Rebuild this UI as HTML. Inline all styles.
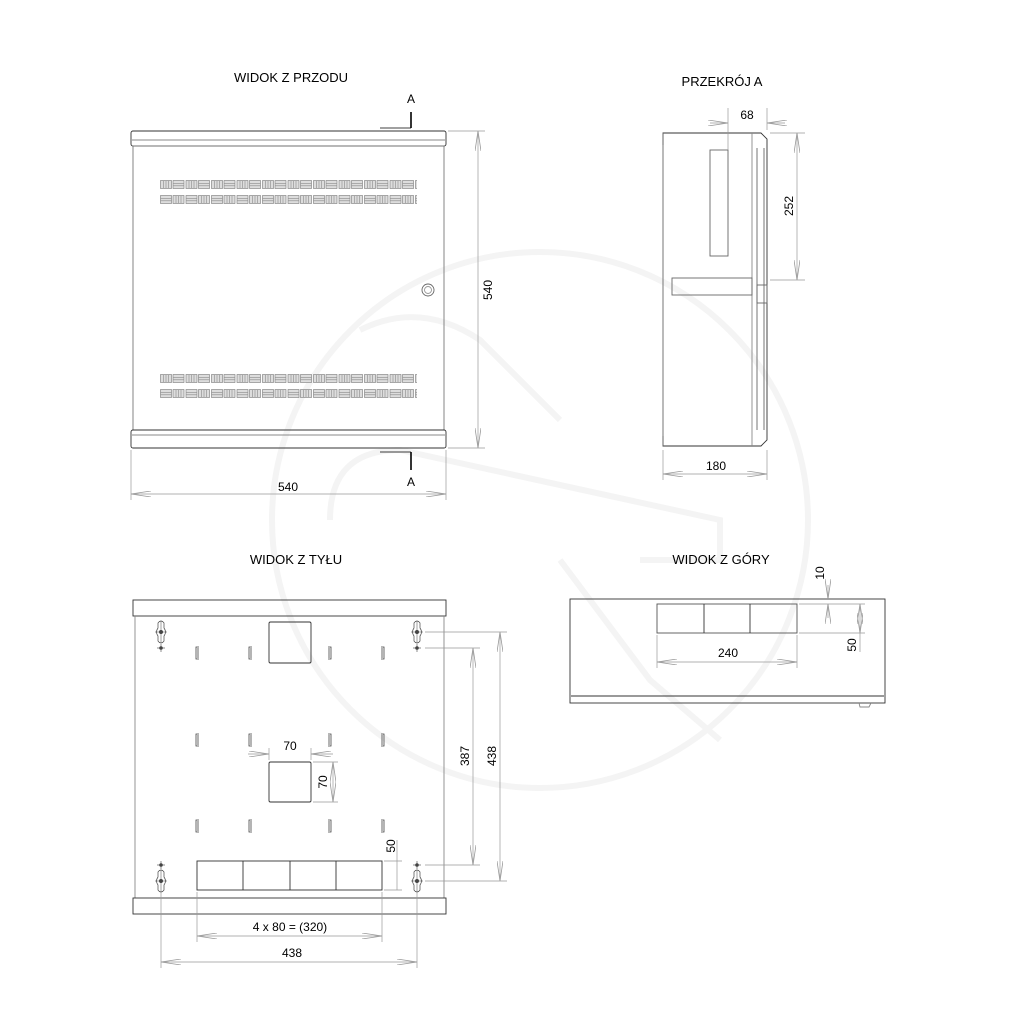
<!DOCTYPE html>
<html><head><meta charset="utf-8"><style>
html,body{margin:0;padding:0;background:#fff}
svg{display:block}
text{font-family:"Liberation Sans",sans-serif;fill:#000}
</style></head><body>
<svg width="1024" height="1024" viewBox="0 0 1024 1024" xmlns="http://www.w3.org/2000/svg">
<defs>
<g id="tA">
<rect x="0.5" y="0.5" width="11" height="8" fill="#ddd" stroke="#777" stroke-width="0.6"/>
<line x1="3.5" y1="1" x2="3.5" y2="8" stroke="#888" stroke-width="0.6"/><line x1="6" y1="1" x2="6" y2="8" stroke="#888" stroke-width="0.6"/><line x1="8.5" y1="1" x2="8.5" y2="8" stroke="#888" stroke-width="0.6"/>
<rect x="13" y="0.5" width="11" height="8" fill="#ddd" stroke="#777" stroke-width="0.6"/>
<line x1="13" y1="3.3" x2="24" y2="3.3" stroke="#888" stroke-width="0.6"/><line x1="13" y1="5.8" x2="24" y2="5.8" stroke="#888" stroke-width="0.6"/>
</g>
<g id="tB">
<rect x="0.5" y="0.5" width="11" height="8" fill="#ddd" stroke="#777" stroke-width="0.6"/>
<line x1="0.5" y1="3.3" x2="11.5" y2="3.3" stroke="#888" stroke-width="0.6"/><line x1="0.5" y1="5.8" x2="11.5" y2="5.8" stroke="#888" stroke-width="0.6"/>
<rect x="13" y="0.5" width="11" height="8" fill="#ddd" stroke="#777" stroke-width="0.6"/>
<line x1="16" y1="1" x2="16" y2="8" stroke="#888" stroke-width="0.6"/><line x1="18.5" y1="1" x2="18.5" y2="8" stroke="#888" stroke-width="0.6"/><line x1="21" y1="1" x2="21" y2="8" stroke="#888" stroke-width="0.6"/>
</g>
<pattern id="p1" x="160" y="180" width="25.5" height="9" patternUnits="userSpaceOnUse"><use href="#tA"/></pattern>
<pattern id="p2" x="160" y="195" width="25.5" height="9" patternUnits="userSpaceOnUse"><use href="#tB"/></pattern>
<pattern id="p3" x="160" y="374" width="25.5" height="9" patternUnits="userSpaceOnUse"><use href="#tA"/></pattern>
<pattern id="p4" x="160" y="389" width="25.5" height="9" patternUnits="userSpaceOnUse"><use href="#tB"/></pattern>
<g id="kh"><path d="M-3,-9 Q0,-13 3,-9 L3,-4 Q6,0 3,4 L3,9 Q0,13 -3,9 L-3,4 Q-6,0 -3,-4 Z" fill="none" stroke="#444" stroke-width="0.7"/><circle r="2" fill="#444"/><line x1="-6" y1="0" x2="6" y2="0" stroke="#444" stroke-width="0.5"/><line x1="0" y1="-11" x2="0" y2="11" stroke="#444" stroke-width="0.5"/></g>
<g id="cr"><circle r="1.8" fill="#444"/><line x1="-4" y1="0" x2="4" y2="0" stroke="#444" stroke-width="0.6"/><line x1="0" y1="-4" x2="0" y2="4" stroke="#444" stroke-width="0.6"/></g>
<g id="sl"><path d="M2,-6 L-1,-6 L-1,6 L2,6 M1,-5 L1,5" fill="none" stroke="#444" stroke-width="0.8"/></g>
<g id="sr"><path d="M-2,-6 L1,-6 L1,6 L-2,6 M-1,-5 L-1,5" fill="none" stroke="#444" stroke-width="0.8"/></g>
<marker id="ar" viewBox="0 0 20 6" refX="20" refY="3" markerWidth="20" markerHeight="6" orient="auto-start-reverse" markerUnits="userSpaceOnUse"><path d="M0,0 L20,3 L0,6" fill="none" stroke="#999" stroke-width="0.8"/></marker>
</defs>

<!-- watermark -->
<g fill="none" stroke="#f4f4f4" stroke-width="6">
<circle cx="540" cy="520" r="268"/>
<path d="M360,330 Q420,300 480,340 L560,420"/>
<path d="M330,520 Q330,450 400,450 L720,520 L720,560 L640,560"/>
<path d="M560,560 L650,680 L720,740"/>
</g>

<g stroke="#333" stroke-width="0.9" fill="none">
<rect x="131" y="131" width="315" height="15" rx="2"/>
<line x1="132" y1="140" x2="445" y2="140" stroke="#888"/>
<rect x="133" y="146" width="311" height="284" stroke="#777"/>
<rect x="131" y="430" width="315" height="18" rx="2"/>
<line x1="132" y1="435" x2="445" y2="435" stroke="#888"/>
<circle cx="428" cy="290" r="6" stroke="#666"/><circle cx="428" cy="290" r="3.5" stroke="#999"/>
</g>
<rect x="160" y="180" width="257" height="9" fill="url(#p1)"/>
<rect x="160" y="195" width="257" height="9" fill="url(#p2)"/>
<rect x="160" y="374" width="257" height="9" fill="url(#p3)"/>
<rect x="160" y="389" width="257" height="9" fill="url(#p4)"/>
<g stroke="#000" stroke-width="1.6"><line x1="411" y1="112" x2="411" y2="128"/><line x1="411" y1="452" x2="411" y2="470"/></g>
<g stroke="#000" stroke-width="0.7"><line x1="380" y1="128" x2="411" y2="128"/><line x1="380" y1="452" x2="411" y2="452"/></g>
<text x="411" y="103" font-size="12" text-anchor="middle">A</text>
<text x="411" y="486" font-size="12" text-anchor="middle">A</text>
<text x="291" y="82" font-size="13" text-anchor="middle">WIDOK Z PRZODU</text>
<g stroke="#999" stroke-width="0.7" fill="none">
<line x1="448" y1="131" x2="485" y2="131"/><line x1="448" y1="448" x2="485" y2="448"/>
<line x1="478" y1="131" x2="478" y2="448" marker-start="url(#ar)" marker-end="url(#ar)"/>
<line x1="131" y1="450" x2="131" y2="500"/><line x1="446" y1="450" x2="446" y2="500"/>
<line x1="131" y1="494" x2="446" y2="494" marker-start="url(#ar)" marker-end="url(#ar)"/>
</g>
<text x="288" y="491" font-size="12" text-anchor="middle">540</text>
<text transform="translate(492,290) rotate(-90)" font-size="12" text-anchor="middle">540</text>

<!-- SECTION A -->
<text x="722" y="86" font-size="13" text-anchor="middle">PRZEKRÓJ A</text>
<g stroke="#333" stroke-width="0.9" fill="none">
<path d="M663,145 L663,133 L761,133 L767,139 L767,440 L761,446 L663,446 L663,436"/>
<line x1="663" y1="133" x2="663" y2="446" stroke="#666"/>
<line x1="752" y1="133" x2="752" y2="446" stroke="#888"/>
<line x1="757" y1="148" x2="757" y2="430" stroke="#666"/>
<line x1="764" y1="148" x2="764" y2="430" stroke="#666"/>
<rect x="710" y="150" width="18" height="106" stroke="#666"/>
<rect x="672" y="278" width="80" height="17" stroke="#666"/>
<rect x="757" y="285" width="10" height="18" stroke="#666"/>
</g>
<g stroke="#999" stroke-width="0.7" fill="none">
<line x1="728" y1="108" x2="728" y2="150"/><line x1="767" y1="108" x2="767" y2="130"/>
<line x1="710" y1="123" x2="728" y2="123" marker-end="url(#ar)"/><line x1="785" y1="123" x2="767" y2="123" marker-end="url(#ar)"/>
<line x1="770" y1="133" x2="805" y2="133"/><line x1="770" y1="280" x2="805" y2="280"/>
<line x1="797" y1="133" x2="797" y2="280" marker-start="url(#ar)" marker-end="url(#ar)"/>
<line x1="663" y1="450" x2="663" y2="480"/><line x1="767" y1="450" x2="767" y2="480"/>
<line x1="663" y1="474" x2="767" y2="474" marker-start="url(#ar)" marker-end="url(#ar)"/>
</g>
<text x="747" y="119" font-size="12" text-anchor="middle">68</text>
<text transform="translate(793,206) rotate(-90)" font-size="12" text-anchor="middle">252</text>
<text x="716" y="470" font-size="12" text-anchor="middle">180</text>

<!-- REAR VIEW -->
<text x="296" y="564" font-size="13" text-anchor="middle">WIDOK Z TYŁU</text>
<g stroke="#333" stroke-width="0.9" fill="none">
<rect x="133" y="600" width="313" height="16"/>
<line x1="135" y1="616" x2="135" y2="898" stroke="#888"/><line x1="444" y1="616" x2="444" y2="898" stroke="#888"/>
<rect x="133" y="898" width="313" height="16"/>
<rect x="269" y="622" width="42" height="41" rx="1.5"/>
<rect x="269" y="762" width="42" height="40" rx="1.5"/>
<rect x="197" y="861" width="185" height="29"/>
<line x1="243" y1="861" x2="243" y2="890"/><line x1="290" y1="861" x2="290" y2="890"/><line x1="336" y1="861" x2="336" y2="890"/>
</g>
<use href="#kh" x="161" y="632"/><use href="#kh" x="417" y="632"/>
<use href="#cr" x="161" y="648"/><use href="#cr" x="417" y="648"/>
<use href="#cr" x="161" y="865"/><use href="#cr" x="417" y="865"/>
<use href="#kh" x="161" y="881"/><use href="#kh" x="417" y="881"/>
<use href="#sl" x="197" y="653"/><use href="#sl" x="250" y="653"/><use href="#sr" x="330" y="653"/><use href="#sr" x="383" y="653"/>
<use href="#sl" x="197" y="740"/><use href="#sl" x="250" y="740"/><use href="#sr" x="330" y="740"/><use href="#sr" x="383" y="740"/>
<use href="#sl" x="197" y="826"/><use href="#sl" x="250" y="826"/><use href="#sr" x="330" y="826"/><use href="#sr" x="383" y="826"/>
<g stroke="#999" stroke-width="0.7" fill="none">
<line x1="425" y1="632" x2="507" y2="632"/><line x1="425" y1="881" x2="507" y2="881"/>
<line x1="500" y1="632" x2="500" y2="881" marker-start="url(#ar)" marker-end="url(#ar)"/>
<line x1="425" y1="648" x2="480" y2="648"/><line x1="425" y1="865" x2="480" y2="865"/>
<line x1="473" y1="648" x2="473" y2="865" marker-start="url(#ar)" marker-end="url(#ar)"/>
<line x1="269" y1="748" x2="269" y2="760"/><line x1="311" y1="748" x2="311" y2="760"/>
<line x1="248" y1="754" x2="269" y2="754" marker-end="url(#ar)"/><line x1="333" y1="754" x2="311" y2="754" marker-end="url(#ar)"/>
<line x1="313" y1="762" x2="338" y2="762"/><line x1="313" y1="802" x2="338" y2="802"/>
<line x1="333" y1="762" x2="333" y2="802" marker-start="url(#ar)" marker-end="url(#ar)"/>
<line x1="384" y1="861" x2="402" y2="861"/><line x1="384" y1="890" x2="402" y2="890"/>
<line x1="397" y1="840" x2="397" y2="890"/>
<line x1="197" y1="892" x2="197" y2="942"/><line x1="382" y1="892" x2="382" y2="942"/>
<line x1="197" y1="936" x2="382" y2="936" marker-start="url(#ar)" marker-end="url(#ar)"/>
<line x1="161" y1="892" x2="161" y2="968"/><line x1="417" y1="892" x2="417" y2="968"/>
<line x1="161" y1="962" x2="417" y2="962" marker-start="url(#ar)" marker-end="url(#ar)"/>
</g>
<text transform="translate(496,756) rotate(-90)" font-size="12" text-anchor="middle">438</text>
<text transform="translate(469,756) rotate(-90)" font-size="12" text-anchor="middle">387</text>
<text x="290" y="750" font-size="12" text-anchor="middle">70</text>
<text transform="translate(327,782) rotate(-90)" font-size="12" text-anchor="middle">70</text>
<text transform="translate(395,846) rotate(-90)" font-size="12" text-anchor="middle">50</text>
<text x="290" y="931" font-size="12" text-anchor="middle">4 x 80 = (320)</text>
<text x="292" y="957" font-size="12" text-anchor="middle">438</text>

<!-- TOP VIEW -->
<text x="721" y="564" font-size="13" text-anchor="middle">WIDOK Z GÓRY</text>
<g stroke="#333" stroke-width="0.9" fill="none">
<rect x="570" y="599" width="315" height="104"/>
<line x1="571" y1="696" x2="884" y2="696"/>
<rect x="657" y="604" width="140" height="29" stroke="#555"/>
<line x1="704" y1="604" x2="704" y2="633"/><line x1="750" y1="604" x2="750" y2="633"/>
<path d="M859,703 L860,707 L869,707 L871,703" stroke="#888"/>
</g>
<g stroke="#999" stroke-width="0.7" fill="none">
<line x1="657" y1="635" x2="657" y2="668"/><line x1="797" y1="635" x2="797" y2="668"/>
<line x1="657" y1="662" x2="797" y2="662" marker-start="url(#ar)" marker-end="url(#ar)"/>
<line x1="828" y1="585" x2="828" y2="599" marker-end="url(#ar)"/><line x1="828" y1="618" x2="828" y2="604" marker-end="url(#ar)"/>
<line x1="799" y1="604" x2="865" y2="604"/><line x1="799" y1="633" x2="865" y2="633"/>
<line x1="860" y1="604" x2="860" y2="633" marker-start="url(#ar)" marker-end="url(#ar)"/>
<line x1="860" y1="633" x2="860" y2="652"/>
</g>
<text transform="translate(824,573) rotate(-90)" font-size="12" text-anchor="middle">10</text>
<text transform="translate(856,645) rotate(-90)" font-size="12" text-anchor="middle">50</text>
<text x="728" y="657" font-size="12" text-anchor="middle">240</text>
</svg>
</body></html>
